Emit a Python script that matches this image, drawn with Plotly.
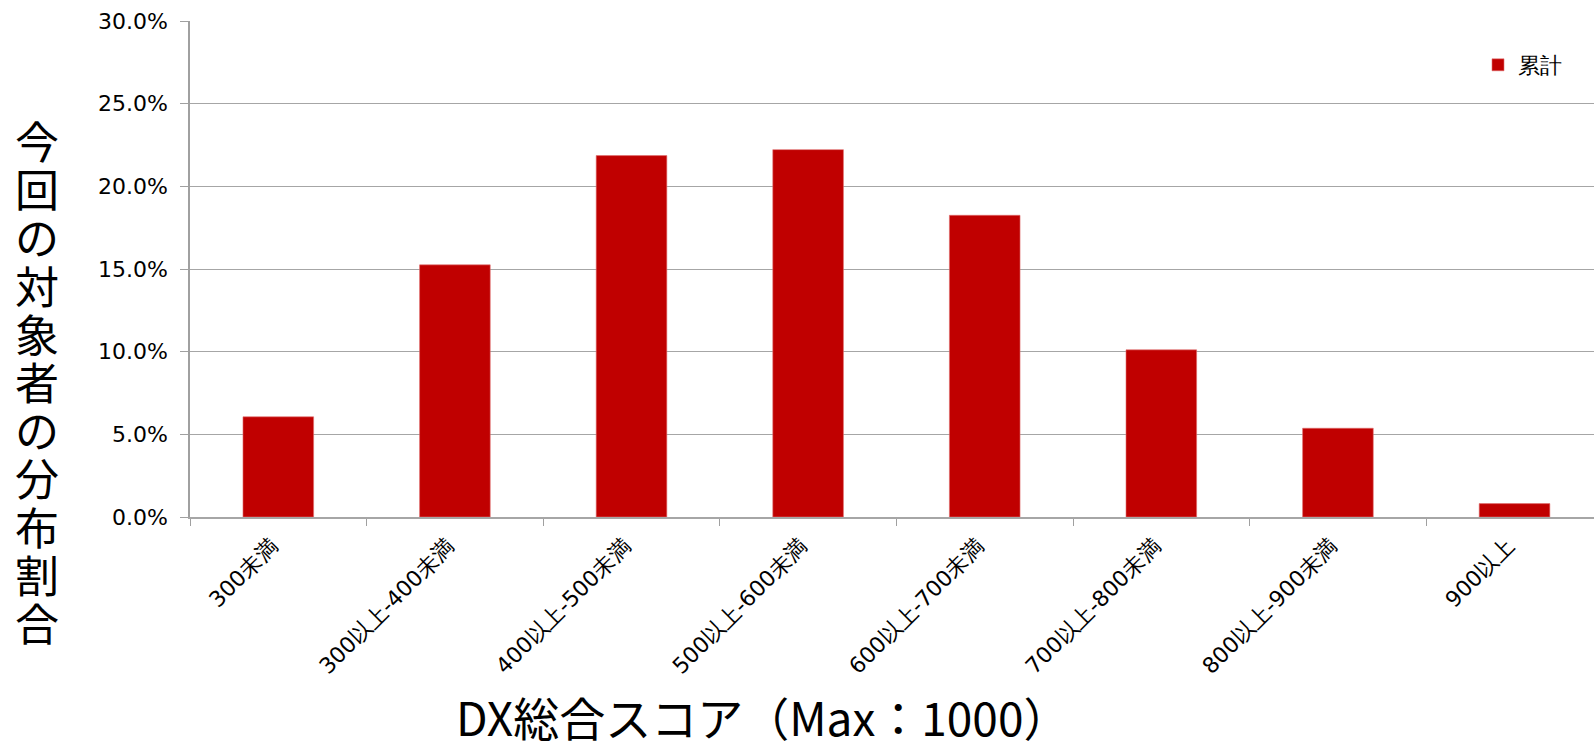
import plotly.graph_objects as go

categories = ["300未満", "300以上-400未満", "400以上-500未満", "500以上-600未満",
              "600以上-700未満", "700以上-800未満", "800以上-900未満", "900以上"]
values = [0.0606, 0.1525, 0.2186, 0.2222, 0.1825, 0.1011, 0.0537, 0.0081]
series_name = "累計"
y_title = "今回の対象者の分布割合"
x_title = "DX総合スコア（Max：1000）"

W, H = 1594, 751
L, R, T, B = 190, 0, 21, 234
plot_h = H - T - B
plot_w = W - L - R

FONT = "DejaVu Sans"

fig = go.Figure()
fig.add_trace(go.Bar(
    x=categories, y=values, name=series_name,
    marker=dict(color="#C00000", line=dict(color="#E07070", width=0.6)),
    width=0.4,
))

fig.update_layout(
    width=W, height=H,
    margin=dict(l=L, r=R, t=T, b=B, pad=0, autoexpand=False),
    paper_bgcolor="white", plot_bgcolor="white",
    font=dict(family=FONT, size=22, color="black"),
    showlegend=True,
    legend=dict(x=(1478 - L) / plot_w, y=(H - B - 65) / plot_h, xanchor="left", yanchor="middle",
                font=dict(size=22, family=FONT), bgcolor="rgba(0,0,0,0)"),
    bargap=0.6,
)
fig.update_yaxes(
    range=[0, 0.30], dtick=0.05, tickformat=".1%",
    showgrid=True, gridcolor="#A6A6A6", gridwidth=1.4,
    showline=True, linecolor="#A0A0A0", linewidth=1.5,
    ticks="outside", ticklen=8, tickcolor="#A0A0A0",
    zeroline=False, tickfont=dict(size=22, family=FONT), ticklabelstandoff=8,
)
fig.update_xaxes(
    type="category", tickangle=-45, range=[-0.5, len(categories) - 0.55],
    showline=True, linecolor="#A6A6A6", linewidth=1.5,
    ticks="outside", ticklen=7, tickcolor="#A0A0A0", tickson="boundaries",
    tickfont=dict(size=22, family=FONT), showgrid=False,
    ticklabelstandoff=6, ticklabelshift=-7,
)

# vertical stacked y-axis title
n = len(y_title)
top_c, bot_c = 140, 622
for i, ch in enumerate(y_title):
    ypx = top_c + (bot_c - top_c) * i / (n - 1)
    fig.add_annotation(text=ch, xref="paper", yref="paper",
                       x=(37 - L) / plot_w, y=(H - B - ypx) / plot_h,
                       showarrow=False, xanchor="center", yanchor="middle",
                       height=46,
                       font=dict(size=44, family="Noto Sans CJK JP", color="black"))

fig.add_annotation(text=x_title, xref="paper", yref="paper",
                   x=(762 - L) / plot_w, y=(H - B - H) / plot_h,
                   showarrow=False, xanchor="center", yanchor="bottom",
                   font=dict(size=46, family="Noto Sans CJK JP", color="black"))

fig.write_html("out.html", config={"displayModeBar": False},
               post_script="document.body.style.margin='0';document.body.style.overflow='hidden';")
